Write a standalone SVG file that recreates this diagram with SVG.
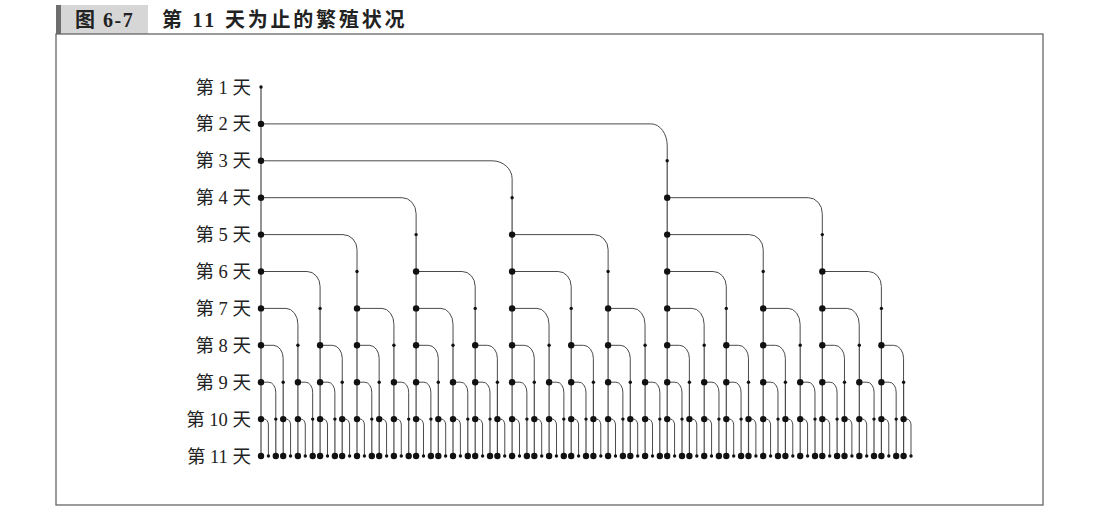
<svg xmlns="http://www.w3.org/2000/svg" width="1120" height="516" viewBox="0 0 1120 516">
<defs>
<style>
.v{fill:none;stroke:#4a4a4a;stroke-width:1.2;marker-start:url(#sm);marker-mid:url(#lg);marker-end:url(#lg)}
.s{fill:#111}
.e{fill:none;stroke:#4a4a4a;stroke-width:1}
.lbl{font-family:"Liberation Serif","Noto Sans CJK SC",serif;font-size:18.5px;fill:#222;text-anchor:end}
.ttl{font-family:"Liberation Serif","Noto Sans CJK SC",serif;font-weight:bold;font-size:20px;fill:#222}
</style>
<marker id="sm" markerUnits="userSpaceOnUse" viewBox="-2 -2 4 4" markerWidth="4" markerHeight="4" refX="0" refY="0" overflow="visible"><circle r="1.7" fill="#111"/></marker>
<marker id="lg" markerUnits="userSpaceOnUse" viewBox="-4 -4 8 8" markerWidth="8" markerHeight="8" refX="0" refY="0" overflow="visible"><circle r="3.2" fill="#111"/></marker>
</defs>
<rect width="1120" height="516" fill="#fff"/>
<g id="title">
<rect x="56" y="5" width="92" height="29" fill="#d6d6d6"/>
<rect x="56" y="5" width="5" height="29" fill="#6e6e6e"/>
<text class="ttl" x="75" y="27" letter-spacing="1.5">图 6-7</text>
<text class="ttl" x="162" y="27" letter-spacing="2.8">第 11 天为止的繁殖状况</text>
</g>
<rect id="frame" x="56" y="34" width="987" height="471" fill="none" stroke="#666" stroke-width="1.3"/>
<g id="labels">
<text class="lbl" x="251" y="93.5">第 1 天</text>
<text class="lbl" x="251" y="130.4">第 2 天</text>
<text class="lbl" x="251" y="167.3">第 3 天</text>
<text class="lbl" x="251" y="204.2">第 4 天</text>
<text class="lbl" x="251" y="241.1">第 5 天</text>
<text class="lbl" x="251" y="278">第 6 天</text>
<text class="lbl" x="251" y="314.9">第 7 天</text>
<text class="lbl" x="251" y="351.8">第 8 天</text>
<text class="lbl" x="251" y="388.7">第 9 天</text>
<text class="lbl" x="251" y="425.6">第 10 天</text>
<text class="lbl" x="251" y="462.5">第 11 天</text>
</g>
<g id="connectors" class="e">
<path d="M261 123.9h390.23a16 22 0 0 1 16 22V160.8"/>
<path d="M261 160.8h231.12a20 18 0 0 1 20 18V197.7"/>
<path d="M261 197.7h141.11a14 16 0 0 1 14 16V234.6"/>
<path d="M667.2 197.7h141.11a14 16 0 0 1 14 16V234.6"/>
<path d="M261 234.6h82.02a14 15 0 0 1 14 15V271.5"/>
<path d="M512.1 234.6h82.02a14 15 0 0 1 14 15V271.5"/>
<path d="M667.2 234.6h82.02a14 15 0 0 1 14 15V271.5"/>
<path d="M261 271.5h46.09a13 15 0 0 1 13 15V308.4"/>
<path d="M416.1 271.5h46.09a13 15 0 0 1 13 15V308.4"/>
<path d="M512.1 271.5h46.09a13 15 0 0 1 13 15V308.4"/>
<path d="M667.2 271.5h46.09a13 15 0 0 1 13 15V308.4"/>
<path d="M822.3 271.5h46.09a13 15 0 0 1 13 15V308.4"/>
<path d="M261 308.4h24.93a12 16 0 0 1 12 16V345.3"/>
<path d="M357 308.4h24.93a12 16 0 0 1 12 16V345.3"/>
<path d="M416.1 308.4h24.93a12 16 0 0 1 12 16V345.3"/>
<path d="M512.1 308.4h24.93a12 16 0 0 1 12 16V345.3"/>
<path d="M608.1 308.4h24.93a12 16 0 0 1 12 16V345.3"/>
<path d="M667.2 308.4h24.93a12 16 0 0 1 12 16V345.3"/>
<path d="M763.2 308.4h24.93a12 16 0 0 1 12 16V345.3"/>
<path d="M822.3 308.4h24.93a12 16 0 0 1 12 16V345.3"/>
<path d="M261 345.3h12.16a10 13 0 0 1 10 13V382.2"/>
<path d="M320.1 345.3h12.16a10 13 0 0 1 10 13V382.2"/>
<path d="M357 345.3h12.16a10 13 0 0 1 10 13V382.2"/>
<path d="M416.1 345.3h12.16a10 13 0 0 1 10 13V382.2"/>
<path d="M475.2 345.3h12.16a10 13 0 0 1 10 13V382.2"/>
<path d="M512.1 345.3h12.16a10 13 0 0 1 10 13V382.2"/>
<path d="M571.2 345.3h12.16a10 13 0 0 1 10 13V382.2"/>
<path d="M608.1 345.3h12.16a10 13 0 0 1 10 13V382.2"/>
<path d="M667.2 345.3h12.16a10 13 0 0 1 10 13V382.2"/>
<path d="M726.3 345.3h12.16a10 13 0 0 1 10 13V382.2"/>
<path d="M763.2 345.3h12.16a10 13 0 0 1 10 13V382.2"/>
<path d="M822.3 345.3h12.16a10 13 0 0 1 10 13V382.2"/>
<path d="M881.4 345.3h12.16a10 13 0 0 1 10 13V382.2"/>
<path d="M261 382.2h7.77a7 10 0 0 1 7 10V419.1"/>
<path d="M297.9 382.2h7.77a7 10 0 0 1 7 10V419.1"/>
<path d="M320.1 382.2h7.77a7 10 0 0 1 7 10V419.1"/>
<path d="M357 382.2h7.77a7 10 0 0 1 7 10V419.1"/>
<path d="M393.9 382.2h7.77a7 10 0 0 1 7 10V419.1"/>
<path d="M416.1 382.2h7.77a7 10 0 0 1 7 10V419.1"/>
<path d="M453 382.2h7.77a7 10 0 0 1 7 10V419.1"/>
<path d="M475.2 382.2h7.77a7 10 0 0 1 7 10V419.1"/>
<path d="M512.1 382.2h7.77a7 10 0 0 1 7 10V419.1"/>
<path d="M549.1 382.2h7.77a7 10 0 0 1 7 10V419.1"/>
<path d="M571.2 382.2h7.77a7 10 0 0 1 7 10V419.1"/>
<path d="M608.1 382.2h7.77a7 10 0 0 1 7 10V419.1"/>
<path d="M645.1 382.2h7.77a7 10 0 0 1 7 10V419.1"/>
<path d="M667.2 382.2h7.77a7 10 0 0 1 7 10V419.1"/>
<path d="M704.2 382.2h7.77a7 10 0 0 1 7 10V419.1"/>
<path d="M726.3 382.2h7.77a7 10 0 0 1 7 10V419.1"/>
<path d="M763.2 382.2h7.77a7 10 0 0 1 7 10V419.1"/>
<path d="M800.2 382.2h7.77a7 10 0 0 1 7 10V419.1"/>
<path d="M822.3 382.2h7.77a7 10 0 0 1 7 10V419.1"/>
<path d="M859.3 382.2h7.77a7 10 0 0 1 7 10V419.1"/>
<path d="M881.4 382.2h7.77a7 10 0 0 1 7 10V419.1"/>
<path d="M261 419.1h3.39a4 6 0 0 1 4 6V456"/>
<path d="M283.2 419.1h3.39a4 6 0 0 1 4 6V456"/>
<path d="M297.9 419.1h3.39a4 6 0 0 1 4 6V456"/>
<path d="M320.1 419.1h3.39a4 6 0 0 1 4 6V456"/>
<path d="M342.2 419.1h3.39a4 6 0 0 1 4 6V456"/>
<path d="M357 419.1h3.39a4 6 0 0 1 4 6V456"/>
<path d="M379.2 419.1h3.39a4 6 0 0 1 4 6V456"/>
<path d="M393.9 419.1h3.39a4 6 0 0 1 4 6V456"/>
<path d="M416.1 419.1h3.39a4 6 0 0 1 4 6V456"/>
<path d="M438.3 419.1h3.39a4 6 0 0 1 4 6V456"/>
<path d="M453 419.1h3.39a4 6 0 0 1 4 6V456"/>
<path d="M475.2 419.1h3.39a4 6 0 0 1 4 6V456"/>
<path d="M497.4 419.1h3.39a4 6 0 0 1 4 6V456"/>
<path d="M512.1 419.1h3.39a4 6 0 0 1 4 6V456"/>
<path d="M534.3 419.1h3.39a4 6 0 0 1 4 6V456"/>
<path d="M549.1 419.1h3.39a4 6 0 0 1 4 6V456"/>
<path d="M571.2 419.1h3.39a4 6 0 0 1 4 6V456"/>
<path d="M593.4 419.1h3.39a4 6 0 0 1 4 6V456"/>
<path d="M608.1 419.1h3.39a4 6 0 0 1 4 6V456"/>
<path d="M630.3 419.1h3.39a4 6 0 0 1 4 6V456"/>
<path d="M645.1 419.1h3.39a4 6 0 0 1 4 6V456"/>
<path d="M667.2 419.1h3.39a4 6 0 0 1 4 6V456"/>
<path d="M689.4 419.1h3.39a4 6 0 0 1 4 6V456"/>
<path d="M704.2 419.1h3.39a4 6 0 0 1 4 6V456"/>
<path d="M726.3 419.1h3.39a4 6 0 0 1 4 6V456"/>
<path d="M748.5 419.1h3.39a4 6 0 0 1 4 6V456"/>
<path d="M763.2 419.1h3.39a4 6 0 0 1 4 6V456"/>
<path d="M785.4 419.1h3.39a4 6 0 0 1 4 6V456"/>
<path d="M800.2 419.1h3.39a4 6 0 0 1 4 6V456"/>
<path d="M822.3 419.1h3.39a4 6 0 0 1 4 6V456"/>
<path d="M844.5 419.1h3.39a4 6 0 0 1 4 6V456"/>
<path d="M859.3 419.1h3.39a4 6 0 0 1 4 6V456"/>
<path d="M881.4 419.1h3.39a4 6 0 0 1 4 6V456"/>
<path d="M903.6 419.1h3.39a4 6 0 0 1 4 6V456"/>
</g>
<g id="pairs">
<g id="n0"><path class="v" d="M261 87V123.9V160.8V197.7V234.6V271.5V308.4V345.3V382.2V419.1V456"/></g>
<g id="n1"><circle class="s" cx="268.4" cy="456" r="1.7"/></g>
<g id="n2"><path class="v" d="M275.8 419.1V456"/></g>
<g id="n3"><path class="v" d="M283.2 382.2V419.1V456"/></g>
<g id="n4"><circle class="s" cx="290.5" cy="456" r="1.7"/></g>
<g id="n5"><path class="v" d="M297.9 345.3V382.2V419.1V456"/></g>
<g id="n6"><circle class="s" cx="305.3" cy="456" r="1.7"/></g>
<g id="n7"><path class="v" d="M312.7 419.1V456"/></g>
<g id="n8"><path class="v" d="M320.1 308.4V345.3V382.2V419.1V456"/></g>
<g id="n9"><circle class="s" cx="327.5" cy="456" r="1.7"/></g>
<g id="n10"><path class="v" d="M334.9 419.1V456"/></g>
<g id="n11"><path class="v" d="M342.2 382.2V419.1V456"/></g>
<g id="n12"><circle class="s" cx="349.6" cy="456" r="1.7"/></g>
<g id="n13"><path class="v" d="M357 271.5V308.4V345.3V382.2V419.1V456"/></g>
<g id="n14"><circle class="s" cx="364.4" cy="456" r="1.7"/></g>
<g id="n15"><path class="v" d="M371.8 419.1V456"/></g>
<g id="n16"><path class="v" d="M379.2 382.2V419.1V456"/></g>
<g id="n17"><circle class="s" cx="386.6" cy="456" r="1.7"/></g>
<g id="n18"><path class="v" d="M393.9 345.3V382.2V419.1V456"/></g>
<g id="n19"><circle class="s" cx="401.3" cy="456" r="1.7"/></g>
<g id="n20"><path class="v" d="M408.7 419.1V456"/></g>
<g id="n21"><path class="v" d="M416.1 234.6V271.5V308.4V345.3V382.2V419.1V456"/></g>
<g id="n22"><circle class="s" cx="423.5" cy="456" r="1.7"/></g>
<g id="n23"><path class="v" d="M430.9 419.1V456"/></g>
<g id="n24"><path class="v" d="M438.3 382.2V419.1V456"/></g>
<g id="n25"><circle class="s" cx="445.6" cy="456" r="1.7"/></g>
<g id="n26"><path class="v" d="M453 345.3V382.2V419.1V456"/></g>
<g id="n27"><circle class="s" cx="460.4" cy="456" r="1.7"/></g>
<g id="n28"><path class="v" d="M467.8 419.1V456"/></g>
<g id="n29"><path class="v" d="M475.2 308.4V345.3V382.2V419.1V456"/></g>
<g id="n30"><circle class="s" cx="482.6" cy="456" r="1.7"/></g>
<g id="n31"><path class="v" d="M490 419.1V456"/></g>
<g id="n32"><path class="v" d="M497.4 382.2V419.1V456"/></g>
<g id="n33"><circle class="s" cx="504.7" cy="456" r="1.7"/></g>
<g id="n34"><path class="v" d="M512.1 197.7V234.6V271.5V308.4V345.3V382.2V419.1V456"/></g>
<g id="n35"><circle class="s" cx="519.5" cy="456" r="1.7"/></g>
<g id="n36"><path class="v" d="M526.9 419.1V456"/></g>
<g id="n37"><path class="v" d="M534.3 382.2V419.1V456"/></g>
<g id="n38"><circle class="s" cx="541.7" cy="456" r="1.7"/></g>
<g id="n39"><path class="v" d="M549.1 345.3V382.2V419.1V456"/></g>
<g id="n40"><circle class="s" cx="556.4" cy="456" r="1.7"/></g>
<g id="n41"><path class="v" d="M563.8 419.1V456"/></g>
<g id="n42"><path class="v" d="M571.2 308.4V345.3V382.2V419.1V456"/></g>
<g id="n43"><circle class="s" cx="578.6" cy="456" r="1.7"/></g>
<g id="n44"><path class="v" d="M586 419.1V456"/></g>
<g id="n45"><path class="v" d="M593.4 382.2V419.1V456"/></g>
<g id="n46"><circle class="s" cx="600.8" cy="456" r="1.7"/></g>
<g id="n47"><path class="v" d="M608.1 271.5V308.4V345.3V382.2V419.1V456"/></g>
<g id="n48"><circle class="s" cx="615.5" cy="456" r="1.7"/></g>
<g id="n49"><path class="v" d="M622.9 419.1V456"/></g>
<g id="n50"><path class="v" d="M630.3 382.2V419.1V456"/></g>
<g id="n51"><circle class="s" cx="637.7" cy="456" r="1.7"/></g>
<g id="n52"><path class="v" d="M645.1 345.3V382.2V419.1V456"/></g>
<g id="n53"><circle class="s" cx="652.5" cy="456" r="1.7"/></g>
<g id="n54"><path class="v" d="M659.8 419.1V456"/></g>
<g id="n55"><path class="v" d="M667.2 160.8V197.7V234.6V271.5V308.4V345.3V382.2V419.1V456"/></g>
<g id="n56"><circle class="s" cx="674.6" cy="456" r="1.7"/></g>
<g id="n57"><path class="v" d="M682 419.1V456"/></g>
<g id="n58"><path class="v" d="M689.4 382.2V419.1V456"/></g>
<g id="n59"><circle class="s" cx="696.8" cy="456" r="1.7"/></g>
<g id="n60"><path class="v" d="M704.2 345.3V382.2V419.1V456"/></g>
<g id="n61"><circle class="s" cx="711.5" cy="456" r="1.7"/></g>
<g id="n62"><path class="v" d="M718.9 419.1V456"/></g>
<g id="n63"><path class="v" d="M726.3 308.4V345.3V382.2V419.1V456"/></g>
<g id="n64"><circle class="s" cx="733.7" cy="456" r="1.7"/></g>
<g id="n65"><path class="v" d="M741.1 419.1V456"/></g>
<g id="n66"><path class="v" d="M748.5 382.2V419.1V456"/></g>
<g id="n67"><circle class="s" cx="755.9" cy="456" r="1.7"/></g>
<g id="n68"><path class="v" d="M763.2 271.5V308.4V345.3V382.2V419.1V456"/></g>
<g id="n69"><circle class="s" cx="770.6" cy="456" r="1.7"/></g>
<g id="n70"><path class="v" d="M778 419.1V456"/></g>
<g id="n71"><path class="v" d="M785.4 382.2V419.1V456"/></g>
<g id="n72"><circle class="s" cx="792.8" cy="456" r="1.7"/></g>
<g id="n73"><path class="v" d="M800.2 345.3V382.2V419.1V456"/></g>
<g id="n74"><circle class="s" cx="807.6" cy="456" r="1.7"/></g>
<g id="n75"><path class="v" d="M815 419.1V456"/></g>
<g id="n76"><path class="v" d="M822.3 234.6V271.5V308.4V345.3V382.2V419.1V456"/></g>
<g id="n77"><circle class="s" cx="829.7" cy="456" r="1.7"/></g>
<g id="n78"><path class="v" d="M837.1 419.1V456"/></g>
<g id="n79"><path class="v" d="M844.5 382.2V419.1V456"/></g>
<g id="n80"><circle class="s" cx="851.9" cy="456" r="1.7"/></g>
<g id="n81"><path class="v" d="M859.3 345.3V382.2V419.1V456"/></g>
<g id="n82"><circle class="s" cx="866.7" cy="456" r="1.7"/></g>
<g id="n83"><path class="v" d="M874 419.1V456"/></g>
<g id="n84"><path class="v" d="M881.4 308.4V345.3V382.2V419.1V456"/></g>
<g id="n85"><circle class="s" cx="888.8" cy="456" r="1.7"/></g>
<g id="n86"><path class="v" d="M896.2 419.1V456"/></g>
<g id="n87"><path class="v" d="M903.6 382.2V419.1V456"/></g>
<g id="n88"><circle class="s" cx="911" cy="456" r="1.7"/></g>
</g>
</svg>
